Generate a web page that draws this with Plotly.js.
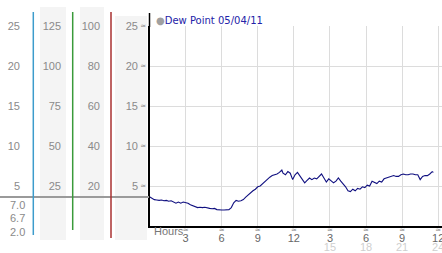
<!DOCTYPE html>
<html><head><meta charset="utf-8">
<script src="https://cdn.plot.ly/plotly-3.0.1.min.js"></script>
<style>html,body{margin:0;padding:0;background:#fff}#chart{width:442px;height:253px}</style>
</head><body><div id="chart"></div>
<script>
const seriesName = "Dew Point 05/04/11";
const hours = [0.0,0.2,0.4,0.6,0.8,1.0,1.2,1.4,1.6,1.8,2.0,2.2,2.4,2.6,2.8,3.0,3.2,3.4,3.6,3.8,4.0,4.2,4.4,4.6,4.8,5.0,5.2,5.4,5.6,5.8,6.0,6.2,6.4,6.6,6.8,7.0,7.2,7.4,7.6,7.8,8.0,8.2,8.4,8.6,8.8,9.0,9.2,9.4,9.6,9.8,10.0,10.2,10.4,10.6,10.8,11.0,11.1,11.3,11.5,11.7,11.9,12.1,12.3,12.5,12.7,12.9,13.1,13.3,13.5,13.7,13.9,14.1,14.3,14.5,14.7,14.9,15.1,15.3,15.5,15.7,15.9,16.1,16.3,16.5,16.7,16.9,17.1,17.3,17.5,17.7,17.9,18.1,18.3,18.5,18.7,18.9,19.1,19.3,19.5,19.7,19.9,20.1,20.3,20.5,20.7,20.9,21.1,21.3,21.5,21.7,21.9,22.1,22.3,22.5,22.7,22.9,23.1,23.3,23.5,23.6];
const dewPoint = [3.66,3.5,3.3,3.25,3.2,3.25,3.15,3.2,3.1,3.15,3.0,2.85,3.0,2.85,3.0,2.9,2.85,2.65,2.5,2.4,2.3,2.35,2.3,2.35,2.25,2.2,2.15,2.2,2.05,2.0,2.0,2.0,2.0,2.05,2.3,2.9,3.2,3.1,3.15,3.3,3.6,3.9,4.1,4.4,4.6,4.9,5.0,5.3,5.6,5.8,6.1,6.3,6.4,6.5,6.7,7.0,6.6,6.4,6.8,6.6,5.8,6.4,6.7,6.3,5.9,5.4,5.7,6.0,5.8,6.0,5.9,6.2,6.5,6.0,5.5,5.9,5.7,5.4,5.6,6.0,5.6,5.3,4.9,4.4,4.3,4.6,4.4,4.7,4.6,4.9,4.8,5.1,5.0,5.6,5.4,5.3,5.6,5.5,5.9,6.0,6.1,6.2,6.3,6.2,6.2,6.4,6.5,6.4,6.4,6.5,6.5,6.4,6.4,5.8,6.2,6.3,6.3,6.5,6.8,6.7];
const tempTicks = [25,20,15,10,5];
const col2Ticks = [125,100,75,50,25];
const col3Ticks = [100,80,60,40,20];
const col4Ticks = [25,20,15,10,5];
const hourTickVals = [3,6,9,12,15,18,21,24];
const hourTickText = ["3","6","9","12","3","6","9","12"];
const hour2TickVals = [15,18,21,24];
const hour2TickText = ["15","18","21","24"];
const stats = ["7.0","6.7","2.0"];
const hoursLabel = "Hours";

const W = 442, H = 253;
const px = x => x / W;
const py = y => 1 - y / H;
const yTop = 25.05;
const yDom = [py(226), py(226 - yTop * 8)];
const xDom = [px(149.5), 1];
const xRange = [0, (442 - 149.5) / 12.03];
const numFont = () => ({family: "Liberation Sans, Arial, sans-serif", size: 11, color: "#8a8a8a"});
const markFont = () => ({family: "DejaVu Sans, sans-serif", size: 7, color: "#8a8a8a"});

const sideAxis = (pos, mult, vals) => ({
  domain: yDom, range: [0, yTop * mult], overlaying: 'y', anchor: 'free', position: pos,
  side: 'left', showgrid: false, zeroline: false, showline: false, ticks: '',
  tickmode: 'array', tickvals: vals, ticktext: vals.map(String), tickfont: numFont(),
  color: '#8a8a8a', ticklabelstandoff: 0, fixedrange: true
});

const data = [
  {x: hours, y: dewPoint, type: 'scatter', mode: 'lines', name: seriesName,
   line: {color: '#101080', width: 1.1}, showlegend: false},
  {x: [null], y: [null], yaxis: 'y2', showlegend: false, hoverinfo: 'skip'},
  {x: [null], y: [null], yaxis: 'y3', showlegend: false, hoverinfo: 'skip'},
  {x: [null], y: [null], yaxis: 'y4', showlegend: false, hoverinfo: 'skip'},
  {x: [null], y: [null], yaxis: 'y5', showlegend: false, hoverinfo: 'skip'},
  {x: [null], y: [null], xaxis: 'x2', showlegend: false, hoverinfo: 'skip'},
  {x: [null], y: [null], xaxis: 'x3', showlegend: false, hoverinfo: 'skip'}
];

const shapes = [];
const band = (x0, x1, y0, y1) => shapes.push({type: 'rect', xref: 'paper', yref: 'paper',
  x0: px(x0), x1: px(x1), y0: py(y1), y1: py(y0), fillcolor: '#f4f4f4', line: {width: 0}, layer: 'below'});
band(40, 66, 7, 240);
band(80, 104, 7, 240);
band(115, 147, 16, 240);
const vline = (x, y0, y1, color) => shapes.push({type: 'line', xref: 'paper', yref: 'paper',
  x0: px(x), x1: px(x), y0: py(y1), y1: py(y0), line: {color: color, width: 1.5}});
shapes.push({type: 'line', xref: 'paper', yref: 'paper', x0: 0, x1: px(149), y0: py(197), y1: py(197),
  line: {color: '#9a9a9a', width: 2}});
vline(33.3, 12, 235, '#3d9ccc');
vline(72.7, 12, 230, '#3a9a3a');
vline(111, 12, 238, '#a83030');
vline(149.5, 13, 27, '#000');

const annotations = [
  {xref: 'paper', yref: 'paper', x: px(154), y: py(21), xanchor: 'left', yanchor: 'middle', showarrow: false,
   text: '<span style="color:#a0a0a0">●</span>' + seriesName,
   font: {family: 'DejaVu Sans, Verdana, sans-serif', size: 10, color: '#2323a8'}},
  {xref: 'paper', yref: 'paper', x: px(152), y: py(231), xanchor: 'left', yanchor: 'middle', showarrow: false,
   text: hoursLabel, font: {family: 'Liberation Sans, Arial, sans-serif', size: 11, color: '#777'}}
];
const statY = [204.5, 218, 231.5];
stats.forEach((s, i) => annotations.push({xref: 'paper', yref: 'paper', x: px(27), y: py(statY[i]),
  xanchor: 'right', yanchor: 'middle', showarrow: false, text: s, font: numFont()}));

const layout = {
  width: W, height: H, margin: {l: 0, r: 0, t: 0, b: 0}, paper_bgcolor: '#fff', plot_bgcolor: '#fff',
  showlegend: false,
  xaxis: {domain: xDom, range: xRange, tickmode: 'array', tickvals: hourTickVals,
    ticktext: hourTickVals.map(() => '≈'), tickfont: markFont(), ticklabeloverflow: 'allow',
    showgrid: true, gridcolor: '#dcdcdc', gridwidth: 1, zeroline: false, showline: true,
    linecolor: '#000', linewidth: 2, ticks: '', ticklabelstandoff: -4, fixedrange: true},
  xaxis2: {domain: xDom, range: xRange, overlaying: 'x', anchor: 'free', position: py(229.5), side: 'bottom',
    tickmode: 'array', tickvals: hourTickVals, ticktext: hourTickText, ticklabeloverflow: 'allow',
    tickfont: {family: 'Liberation Sans, Arial, sans-serif', size: 11, color: '#666'},
    showgrid: false, zeroline: false, showline: false, ticks: '', ticklabelstandoff: 0, fixedrange: true},
  xaxis3: {domain: xDom, range: xRange, overlaying: 'x', anchor: 'free', position: py(239), side: 'bottom',
    tickmode: 'array', tickvals: hour2TickVals, ticktext: hour2TickText, ticklabeloverflow: 'allow',
    tickfont: {family: 'Liberation Sans, Arial, sans-serif', size: 11, color: '#cfcfcf'},
    showgrid: false, zeroline: false, showline: false, ticks: '', ticklabelstandoff: 0, fixedrange: true},
  yaxis: {domain: yDom, range: [0, yTop], tickmode: 'array', tickvals: col4Ticks,
    ticktext: col4Ticks.map(() => '≈'), tickfont: markFont(),
    showgrid: true, gridcolor: '#dcdcdc', gridwidth: 1, zeroline: false, showline: true,
    linecolor: '#000', linewidth: 2, ticks: '', ticklabelstandoff: 0, fixedrange: true},
  yaxis2: sideAxis(px(20), 1, tempTicks),
  yaxis3: sideAxis(px(61), 5, col2Ticks),
  yaxis4: sideAxis(px(100), 4, col3Ticks),
  yaxis5: sideAxis(px(138), 1, col4Ticks),
  shapes: shapes, annotations: annotations
};
Plotly.newPlot('chart', data, layout, {staticPlot: true, displayModeBar: false});
</script></body></html>
